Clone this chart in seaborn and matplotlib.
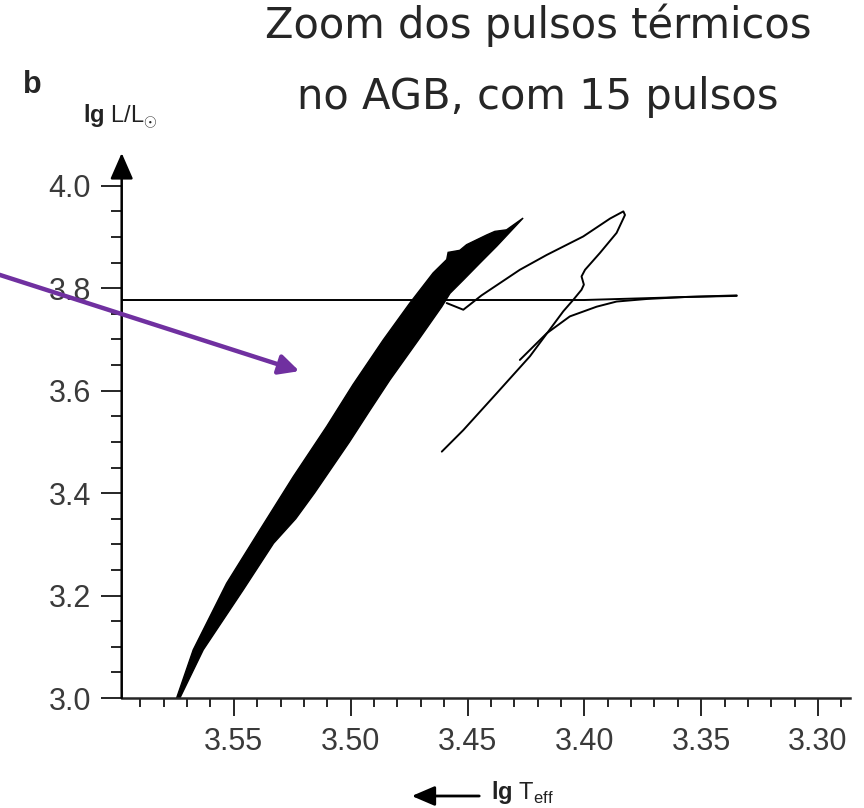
import numpy as np
import pandas as pd
import matplotlib.pyplot as plt
from matplotlib.patches import FancyArrowPatch
from matplotlib.ticker import MultipleLocator, FixedLocator, FormatStrFormatter
import seaborn as sns

# --- DATA (lg Teff / lg L) ---
# dense thermal-pulse band: left edge bottom->top, spike tip, right edge top->bottom
band_teff = [3.5745, 3.5674, 3.5531, 3.5389, 3.5246, 3.5103, 3.4990, 3.4861, 3.4747,
             3.4647, 3.4589, 3.4583, 3.4533, 3.4504, 3.4418, 3.4383, 3.4333, 3.4262,
             3.4375, 3.4447, 3.4518, 3.4575, 3.4610, 3.4710, 3.4832, 3.4920, 3.5005,
             3.5080, 3.5155, 3.5235, 3.5330, 3.5460, 3.5631, 3.5731]
band_lum = [3.000, 3.094, 3.224, 3.328, 3.432, 3.530, 3.612, 3.699, 3.771,
            3.830, 3.856, 3.870, 3.874, 3.885, 3.904, 3.911, 3.914, 3.937,
            3.882, 3.849, 3.816, 3.790, 3.764, 3.699, 3.621, 3.560, 3.500,
            3.450, 3.400, 3.350, 3.302, 3.211, 3.094, 3.000]

# long horizontal track
hline_teff = [3.598, 3.400, 3.370, 3.3348]
hline_lum = [3.777, 3.777, 3.781, 3.786]

# last pulse loop
loop_teff = [3.4589, 3.4518, 3.4490, 3.4440, 3.4276, 3.4161, 3.4005, 3.3890, 3.3833,
             3.3826, 3.3862, 3.3933, 3.3997, 3.4012, 3.4002, 3.4012, 3.4048, 3.4090,
             3.4233, 3.4375, 3.4518, 3.4610]
loop_lum = [3.771, 3.758, 3.768, 3.786, 3.836, 3.865, 3.901, 3.936, 3.950,
            3.943, 3.908, 3.869, 3.836, 3.823, 3.807, 3.797, 3.777, 3.755,
            3.667, 3.595, 3.523, 3.481]

# branch leaving the diagonal toward the right end of the horizontal track
branch_teff = [3.4276, 3.4161, 3.4062, 3.3947, 3.3862, 3.3733, 3.3562, 3.3348]
branch_lum = [3.660, 3.712, 3.745, 3.764, 3.774, 3.779, 3.783, 3.785]

# axis ticks
x_major = [3.55, 3.50, 3.45, 3.40, 3.35, 3.30]
y_major = [3.0, 3.2, 3.4, 3.6, 3.8, 4.0]

TITLE_1 = "Zoom dos pulsos térmicos"
TITLE_2 = "no AGB, com 15 pulsos"

# --- STYLE ---
sns.set_style("ticks")
plt.rcParams['font.family'] = ['Liberation Sans', 'DejaVu Sans']
plt.rcParams['mathtext.fontset'] = 'custom'
plt.rcParams['mathtext.rm'] = 'Liberation Sans'
plt.rcParams['mathtext.bf'] = 'Liberation Sans:bold'

fig = plt.figure(figsize=(8.64, 8.08), dpi=100)
W, H = 864, 808
ax = fig.add_axes([121.7 / W, 110 / H, (850 - 121.7) / W, (698 - 153) / H])

# band
ax.fill(band_teff, band_lum, facecolor='black', edgecolor='black', lw=1.0)

# tracks
for xs, ys in [(hline_teff, hline_lum), (loop_teff, loop_lum), (branch_teff, branch_lum)]:
    df = pd.DataFrame({'teff': xs, 'lum': ys})
    sns.lineplot(data=df, x='teff', y='lum', sort=False, estimator=None,
                 color='black', linewidth=1.4, ax=ax)

ax.set_xlim(3.598, 3.2863)
ax.set_ylim(3.0, 4.064)
ax.set_xlabel("")
ax.set_ylabel("")

for s in ['top', 'right', 'left']:
    ax.spines[s].set_visible(False)
ax.spines['bottom'].set_linewidth(1.8)

# y axis drawn as an arrow
ax.annotate("", xy=(0, 1), xytext=(0, 0), xycoords='axes fraction',
            arrowprops=dict(arrowstyle='-|>,head_length=0.8,head_width=0.35',
                            mutation_scale=20, lw=1.8, color='black',
                            shrinkA=0, shrinkB=0),
            annotation_clip=False)

ax.xaxis.set_major_locator(FixedLocator(x_major))
ax.xaxis.set_minor_locator(MultipleLocator(0.01))
ax.yaxis.set_major_locator(FixedLocator(y_major))
ax.yaxis.set_minor_locator(FixedLocator(np.arange(3.0, 4.001, 0.05)))
ax.xaxis.set_major_formatter(FormatStrFormatter('%.2f'))
ax.yaxis.set_major_formatter(FormatStrFormatter('%.1f'))

ax.tick_params(axis='x', which='major', direction='out', length=13, width=1.4,
               labelsize=22, labelcolor='#3a3a3a', pad=8)
ax.tick_params(axis='x', which='minor', direction='out', length=6.5, width=1.4)
ax.tick_params(axis='y', which='major', direction='out', length=15, width=1.4,
               labelsize=22, labelcolor='#3a3a3a', pad=7)
ax.tick_params(axis='y', which='minor', direction='out', length=8, width=1.4)

# labels
fig.text(23 / W, 1 - 93 / H, "b", fontsize=22, fontweight='bold', ha='left', va='baseline')
fig.text(120 / W, 1 - 117 / H, r"$\mathbf{lg}$ L/L$_{\odot}$", fontsize=17,
         ha='center', va='center', color='#222222')
fig.text(491 / W, 1 - 793 / H, r"$\mathbf{lg}$ T$_{\rm eff}$", fontsize=17,
         ha='left', va='center', color='#222222')
fig.add_artist(FancyArrowPatch((482 / W, 1 - 796 / H), (409 / W, 1 - 796 / H),
                               transform=fig.transFigure,
                               arrowstyle='-|>,head_length=0.7,head_width=0.3',
                               mutation_scale=20, lw=2.0, color='black'))

# title (two lines)
fig.text(538 / W, 1 - 38 / H, TITLE_1, fontsize=30, family='DejaVu Sans',
         ha='center', va='baseline')
fig.text(538 / W, 1 - 109 / H, TITLE_2, fontsize=30, family='DejaVu Sans',
         ha='center', va='baseline')

# purple pointer arrow
fig.add_artist(FancyArrowPatch((-3 / W, 1 - 274 / H), (302 / W, 1 - 372 / H),
                               transform=fig.transFigure,
                               arrowstyle='-|>,head_length=0.6,head_width=0.3',
                               mutation_scale=20, lw=3.2, color='#7030A0'))

fig.savefig("out.png", dpi=100)
